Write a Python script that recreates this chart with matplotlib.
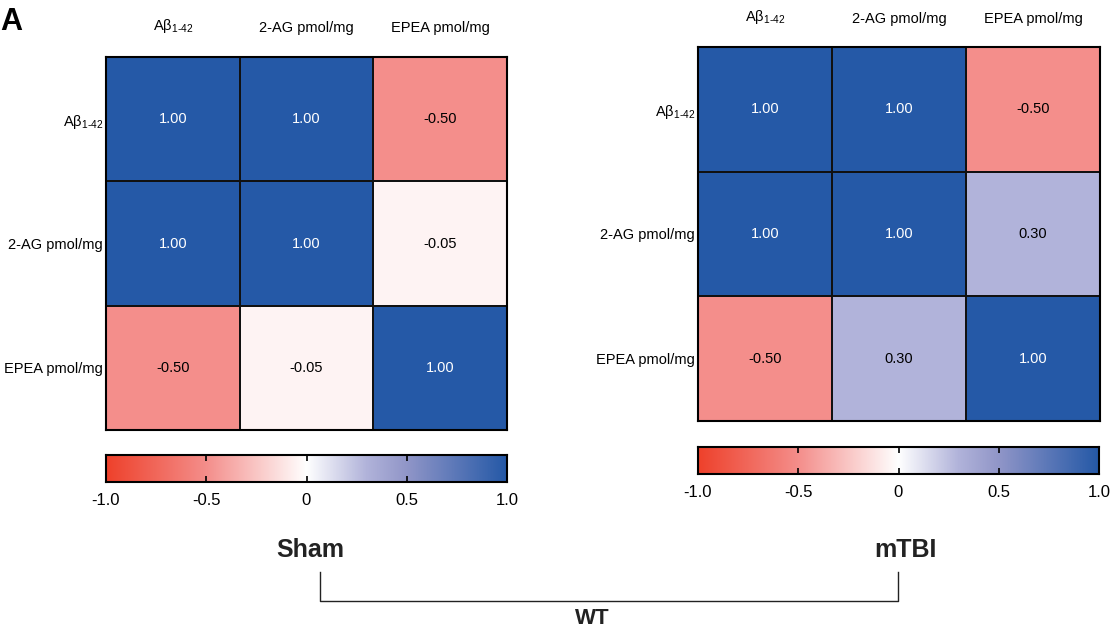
import matplotlib.pyplot as plt
import numpy as np
from matplotlib.colors import LinearSegmentedColormap
from matplotlib.lines import Line2D

plt.rcParams['font.family'] = ['Liberation Sans', 'DejaVu Sans']
plt.rcParams['mathtext.default'] = 'regular'

labels = ['A\u03b2$_{1\u201042}$', '2-AG pmol/mg', 'EPEA pmol/mg']
sham = [[1.00, 1.00, -0.50],
        [1.00, 1.00, -0.05],
        [-0.50, -0.05, 1.00]]
mtbi = [[1.00, 1.00, -0.50],
        [1.00, 1.00, 0.30],
        [-0.50, 0.30, 1.00]]
groups = ['Sham', 'mTBI']
genotype = 'WT'
cbar_ticks = [-1.0, -0.5, 0, 0.5, 1.0]
cbar_labels = ['-1.0', '-0.5', '0', '0.5', '1.0']

cmap = LinearSegmentedColormap.from_list('rwb', [
    (0.0, '#EE412B'),
    (0.25, '#F48E8B'),
    (0.5, '#FFFFFF'),
    (0.65, '#B1B3DA'),
    (0.75, '#9196C8'),
    (1.0, '#2559A7')])

W, H = 1114, 636
fig = plt.figure(figsize=(W / 100, H / 100), dpi=100)


def px(x0, y0, x1, y1):
    return [x0 / W, 1 - y1 / H, (x1 - x0) / W, (y1 - y0) / H]


def heat(box, cbox, mat, xpad):
    ax = fig.add_axes(px(*box))
    m = np.array(mat)
    ax.pcolormesh(m, cmap=cmap, vmin=-1, vmax=1, edgecolors='#111111', linewidth=1.2)
    ax.set_xlim(0, 3)
    ax.set_ylim(3, 0)
    for i in range(3):
        for j in range(3):
            v = m[i, j]
            c = 'white' if v > 0.6 else 'black'
            ax.text(j + 0.5, i + 0.5, f'{v:.2f}', ha='center', va='center', fontsize=10.5, color=c)
    ax.set_xticks([0.5, 1.5, 2.5])
    ax.set_yticks([0.5, 1.5, 2.5])
    ax.set_xticklabels(labels, fontsize=10.5)
    ax.set_yticklabels(labels, fontsize=10.5)
    ax.xaxis.tick_top()
    ax.tick_params(length=0, pad=2)
    ax.tick_params(axis='x', pad=xpad)
    for s in ax.spines.values():
        s.set_linewidth(1.5)

    cax = fig.add_axes(px(*cbox))
    grad = np.linspace(-1, 1, 256).reshape(1, -1)
    cax.imshow(grad, cmap=cmap, vmin=-1, vmax=1, aspect='auto', extent=[-1, 1, 0, 1])
    cax.set_yticks([])
    cax.set_xticks(cbar_ticks)
    cax.set_xticklabels(cbar_labels, fontsize=12)
    cax.tick_params(axis='x', direction='in', top=True, bottom=True, length=4, width=1.2, pad=8)
    for s in cax.spines.values():
        s.set_linewidth(1.5)
    return ax


heat((106, 57, 507, 430), (106, 455, 507, 482), sham, 16)
heat((698, 47, 1100, 421), (698, 447, 1099, 474), mtbi, 15)

fig.text(0, 1 - 22 / H, 'A', fontsize=22, fontweight='bold', ha='left', va='center')
fig.text(310 / W, 1 - 550 / H, groups[0], fontsize=18, fontweight='bold', ha='center', va='center', color='#222222')
fig.text(905 / W, 1 - 550 / H, groups[1], fontsize=18, fontweight='bold', ha='center', va='center', color='#222222')

# bracket
fig.add_artist(Line2D([320 / W, 320 / W, 898 / W, 898 / W],
                      [1 - 572 / H, 1 - 601 / H, 1 - 601 / H, 1 - 572 / H],
                      transform=fig.transFigure, color='#222222', linewidth=1))
fig.text(592 / W, 1 - 619 / H, genotype, fontsize=16, fontweight='bold', ha='center', va='center', color='#222222')

fig.savefig('out.png', dpi=100)
